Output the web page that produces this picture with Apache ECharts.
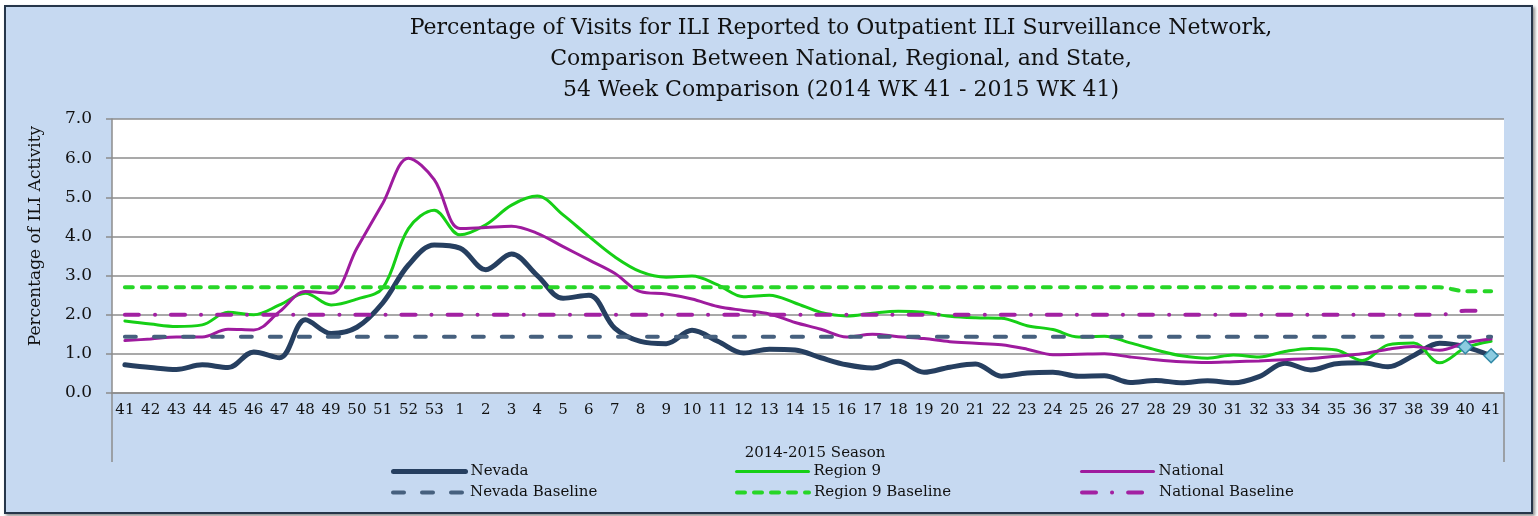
<!DOCTYPE html>
<html>
<head>
<meta charset="utf-8">
<script src="https://cdn.jsdelivr.net/npm/echarts@6/dist/echarts.min.js"></script>
<style>
  html, body { margin: 0; padding: 0; background: #fff; }
  #frame {
    position: absolute; left: 4px; top: 5px; width: 1525px; height: 505px;
    background: #c6d9f1; border: 2px solid #26364a;
    box-shadow: 2px 2px 3px rgba(0, 0, 0, 0.45);
  }
  #chart { position: absolute; left: 0; top: 0; width: 1538px; height: 516px; }
</style>
</head>
<body>
<div id="frame"></div>
<div id="chart"></div>
<script>
// ILI surveillance: Nevada vs Region 9 vs National, 54 weeks, with baselines.
const TITLE_LINES = [
  'Percentage of Visits for ILI Reported to Outpatient ILI Surveillance Network,',
  'Comparison Between National, Regional, and State,',
  '54 Week Comparison (2014 WK 41 - 2015 WK 41)',
];
const SEASON = '2014-2015 Season';
const Y_NAME = 'Percentage of ILI Activity';

const weeks = [
  '41', '42', '43', '44', '45', '46', '47', '48', '49', '50', '51', '52', '53',
  '1', '2', '3', '4', '5', '6', '7', '8', '9', '10', '11', '12', '13', '14', '15',
  '16', '17', '18', '19', '20', '21', '22', '23', '24', '25', '26', '27', '28',
  '29', '30', '31', '32', '33', '34', '35', '36', '37', '38', '39', '40', '41',
];

const nevada = [
  0.72, 0.65, 0.60, 0.72, 0.65, 1.05, 0.90, 1.87, 1.52, 1.68,
  2.30, 3.27, 3.78, 3.70, 3.15, 3.55, 3.00, 2.42, 2.50, 1.66,
  1.32, 1.26, 1.60, 1.32, 1.02, 1.12, 1.10, 0.90, 0.72, 0.64,
  0.81, 0.53, 0.66, 0.74, 0.43, 0.51, 0.53, 0.43, 0.44, 0.27,
  0.32, 0.26, 0.31, 0.26, 0.42, 0.76, 0.59, 0.75, 0.77, 0.67,
  0.96, 1.27, 1.18, 0.95,
];
const region9 = [
  1.84, 1.76, 1.70, 1.74, 2.06, 2.00, 2.25, 2.55, 2.25, 2.40,
  2.68, 4.20, 4.67, 4.04, 4.30, 4.80, 5.03, 4.55, 4.00, 3.48,
  3.10, 2.96, 2.99, 2.76, 2.46, 2.50, 2.30, 2.06, 1.97, 2.04,
  2.09, 2.06, 1.96, 1.92, 1.91, 1.72, 1.62, 1.43, 1.45, 1.28,
  1.10, 0.95, 0.89, 0.97, 0.92, 1.06, 1.14, 1.10, 0.83, 1.23,
  1.28, 0.77, 1.15, 1.32,
];
const national = [
  1.34, 1.38, 1.43, 1.43, 1.63, 1.61, 2.08, 2.59, 2.55, 3.70,
  4.84, 6.00, 5.45, 4.20, 4.23, 4.26, 4.08, 3.74, 3.40, 3.06,
  2.59, 2.53, 2.40, 2.21, 2.11, 2.02, 1.80, 1.63, 1.43, 1.50,
  1.44, 1.39, 1.31, 1.27, 1.23, 1.12, 0.98, 0.99, 1.00, 0.92,
  0.85, 0.80, 0.78, 0.80, 0.82, 0.85, 0.88, 0.94, 1.00, 1.12,
  1.19, 1.09, 1.28, 1.38,
];
const nevadaBase = [
  1.44, 1.44, 1.44, 1.44, 1.44, 1.44, 1.44, 1.44, 1.44, 1.44,
  1.44, 1.44, 1.44, 1.44, 1.44, 1.44, 1.44, 1.44, 1.44, 1.44,
  1.44, 1.44, 1.44, 1.44, 1.44, 1.44, 1.44, 1.44, 1.44, 1.44,
  1.44, 1.44, 1.44, 1.44, 1.44, 1.44, 1.44, 1.44, 1.44, 1.44,
  1.44, 1.44, 1.44, 1.44, 1.44, 1.44, 1.44, 1.44, 1.44, 1.44,
  1.44, 1.44, 1.44, 1.44,
];
const region9Base = [
  2.7, 2.7, 2.7, 2.7, 2.7, 2.7, 2.7, 2.7, 2.7, 2.7,
  2.7, 2.7, 2.7, 2.7, 2.7, 2.7, 2.7, 2.7, 2.7, 2.7,
  2.7, 2.7, 2.7, 2.7, 2.7, 2.7, 2.7, 2.7, 2.7, 2.7,
  2.7, 2.7, 2.7, 2.7, 2.7, 2.7, 2.7, 2.7, 2.7, 2.7,
  2.7, 2.7, 2.7, 2.7, 2.7, 2.7, 2.7, 2.7, 2.7, 2.7,
  2.7, 2.7, 2.6, 2.6,
];
const nationalBase = [
  2.0, 2.0, 2.0, 2.0, 2.0, 2.0, 2.0, 2.0, 2.0, 2.0,
  2.0, 2.0, 2.0, 2.0, 2.0, 2.0, 2.0, 2.0, 2.0, 2.0,
  2.0, 2.0, 2.0, 2.0, 2.0, 2.0, 2.0, 2.0, 2.0, 2.0,
  2.0, 2.0, 2.0, 2.0, 2.0, 2.0, 2.0, 2.0, 2.0, 2.0,
  2.0, 2.0, 2.0, 2.0, 2.0, 2.0, 2.0, 2.0, 2.0, 2.0,
  2.0, 2.0, 2.1, 2.1,
];
const PRELIM_WEEKS = 2; // last Nevada points drawn with a diamond marker

const SERIF = '"DejaVu Serif", "Liberation Serif", serif';
const AXIS_GREY = '#8c8c8c';
const GRID = { left: 112, right: 34, top: 119, bottom: 123 };
const W = 1538, H = 516;

function lineSeries(name, data, color, width, dash) {
  return {
    name, type: 'line', data, smooth: 0.35,
    symbol: 'none', showSymbol: true,
    lineStyle: { color, width, type: dash || 'solid', cap: 'round' },
    itemStyle: { color },
    emphasis: { disabled: true },
  };
}

const nevadaData = nevada.map((v, i) => (i < nevada.length - PRELIM_WEEKS ? v : {
  value: v, symbol: 'diamond', symbolSize: 14,
  itemStyle: { color: '#8ccbe0', borderColor: '#2f88a6', borderWidth: 1.5 },
}));

const series = [
  lineSeries('Nevada', nevadaData, '#263f60', 5),
  lineSeries('Region 9', region9, '#16cf16', 3),
  lineSeries('National', national, '#9e1b9e', 3),
  lineSeries('Nevada Baseline', nevadaBase, '#46607e', 4, [11, 18]),
  lineSeries('Region 9 Baseline', region9Base, '#27d627', 4, [8, 9]),
  lineSeries('National Baseline', nationalBase, '#a221a2', 4, [14, 16, 0.1, 16]),
];

// Legend: three columns, two rows, each entry placed like the original.
// The legend symbol is hidden so only the (inherited) line style shows.
const legendCols = [391, 735, 1080];
const legendRows = [464, 485];
const legend = series.map((s, i) => ({
  data: [s.name],
  left: legendCols[i % 3], top: legendRows[Math.floor(i / 3)],
  padding: 0, itemWidth: 72, itemHeight: 14,
  selectedMode: false,
  itemStyle: { opacity: 0 },
  lineStyle: { width: 'inherit' },
  textStyle: { fontFamily: SERIF, fontSize: 15, color: '#111' },
}));

const plotRight = W - GRID.right;
const plotBottom = H - GRID.bottom;
const frameLine = (x) => ({
  type: 'line', silent: true,
  shape: { x1: x, y1: plotBottom, x2: x, y2: 462 },
  style: { stroke: AXIS_GREY, lineWidth: 1.5 },
});

const chart = echarts.init(document.getElementById('chart'), null, { renderer: 'canvas' });
chart.setOption({
  animation: false,
  backgroundColor: 'transparent',
  title: {
    text: TITLE_LINES.join('\n'),
    left: 836, top: 8, textAlign: 'center',
    textStyle: { fontFamily: SERIF, fontSize: 22, fontWeight: 'normal', color: '#111', lineHeight: 31 },
  },
  legend,
  grid: { ...GRID, show: true, backgroundColor: '#fff', borderWidth: 0 },
  xAxis: {
    type: 'category', data: weeks, boundaryGap: true,
    axisLine: { lineStyle: { color: AXIS_GREY, width: 1.5 } },
    axisTick: { show: false },
    axisLabel: { interval: 0, margin: 10, fontFamily: SERIF, fontSize: 15, color: '#111' },
    name: SEASON, nameLocation: 'middle', nameGap: 53,
    nameTextStyle: { fontFamily: SERIF, fontSize: 15, color: '#111', padding: [0, 0, 0, 14] },
  },
  yAxis: {
    type: 'value', min: 0, max: 7, interval: 1,
    axisLine: { show: true, lineStyle: { color: AXIS_GREY, width: 1.5 } },
    axisTick: { show: true, length: 6, lineStyle: { color: AXIS_GREY, width: 1.5 } },
    splitLine: { lineStyle: { color: AXIS_GREY, width: 1.5 } },
    axisLabel: { margin: 20, fontFamily: SERIF, fontSize: 17, color: '#111', formatter: (v) => v.toFixed(1) },
    name: Y_NAME, nameLocation: 'middle', nameGap: 68,
    nameTextStyle: { fontFamily: SERIF, fontSize: 17, color: '#111', padding: [0, 0, 0, 40] },
  },
  graphic: [frameLine(GRID.left), frameLine(plotRight)],
  series,
});
</script>
</body>
</html>
